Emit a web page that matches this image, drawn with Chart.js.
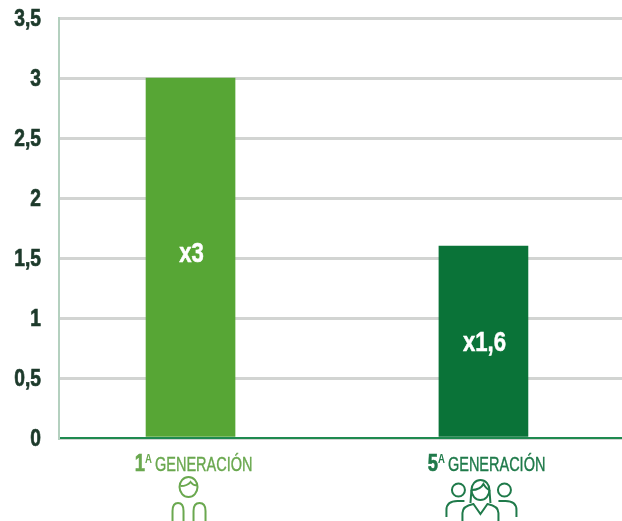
<!DOCTYPE html>
<html>
<head>
<meta charset="utf-8">
<style>
  html, body { margin: 0; padding: 0; background: #fff; }
  canvas { display: block; }
</style>
<script src="https://cdn.jsdelivr.net/npm/chart.js@4"></script>
</head>
<body>
<canvas id="chart" width="622" height="521"></canvas>
<script>
// data
const ordinals = ['1', '5'];
const categories = ['GENERACIÓN', 'GENERACIÓN'];
const values = [3, 1.6];
const barLabels = ['x3', 'x1,6'];
const barColors = ['#57a635', '#0a7338'];
const labelColors = ['#6aa84f', '#1f7a4a'];

const FONT = '"Liberation Sans", sans-serif';

// no condensed font is installed, so squeeze the text horizontally
// weight > 0 adds a thin outline to get closer to the heavy original
function narrowText(ctx, text, x, y, font, squeeze, weight) {
    ctx.save();
    ctx.font = font;
    ctx.translate(x, y);
    ctx.scale(squeeze, 1);
    ctx.fillText(text, 0, 0);
    if (weight) {
        ctx.strokeStyle = ctx.fillStyle;
        ctx.lineWidth = weight;
        ctx.strokeText(text, 0, 0);
    }
    ctx.restore();
}

// icons under the axis labels
function drawOnePerson(ctx, cx) {
    ctx.beginPath();
    ctx.ellipse(cx - 2, 487, 9, 10, 0, 0, Math.PI * 2);
    ctx.stroke();
    ctx.beginPath();
    ctx.moveTo(cx - 10, 486);
    ctx.quadraticCurveTo(cx - 3, 486, cx, 482);
    ctx.quadraticCurveTo(cx + 3, 486, cx + 7, 485);
    ctx.stroke();
    [[cx - 18, cx - 7], [cx + 3, cx + 15]].forEach(([a, b]) => {
        ctx.beginPath();
        ctx.moveTo(a, 521);
        ctx.lineTo(a, 511);
        ctx.quadraticCurveTo(a, 503, (a + b) / 2, 503);
        ctx.quadraticCurveTo(b, 503, b, 511);
        ctx.lineTo(b, 521);
        ctx.stroke();
    });
}

function drawThreePeople(ctx, cx) {
    [[cx - 25, 6.5], [cx + 21, 6.5]].forEach(([x, r]) => {
        ctx.beginPath();
        ctx.arc(x, 490, r, 0, Math.PI * 2);
        ctx.stroke();
    });
    ctx.beginPath();
    ctx.ellipse(cx - 3, 490, 9, 10, 0, 0, Math.PI * 2);
    ctx.stroke();
    ctx.beginPath();
    ctx.moveTo(cx - 12, 490);
    ctx.quadraticCurveTo(cx - 3, 490, cx, 484);
    ctx.quadraticCurveTo(cx + 3, 489, cx + 6, 490);
    ctx.moveTo(cx - 12, 490);
    ctx.lineTo(cx - 13, 503);
    ctx.moveTo(cx + 6, 490);
    ctx.lineTo(cx + 7, 503);
    ctx.stroke();
    // middle body
    ctx.beginPath();
    ctx.moveTo(cx - 21, 521);
    ctx.lineTo(cx - 21, 513);
    ctx.quadraticCurveTo(cx - 21, 506, cx - 10, 504);
    ctx.lineTo(cx - 3, 514);
    ctx.lineTo(cx + 4, 504);
    ctx.quadraticCurveTo(cx + 15, 506, cx + 15, 513);
    ctx.lineTo(cx + 15, 521);
    ctx.stroke();
    // side shoulders
    ctx.beginPath();
    ctx.moveTo(cx - 37, 517);
    ctx.lineTo(cx - 37, 510);
    ctx.quadraticCurveTo(cx - 37, 501, cx - 26, 501);
    ctx.lineTo(cx - 19, 501);
    ctx.moveTo(cx + 33, 517);
    ctx.lineTo(cx + 33, 510);
    ctx.quadraticCurveTo(cx + 33, 501, cx + 22, 501);
    ctx.lineTo(cx + 15, 501);
    ctx.stroke();
}

const annotations = {
    id: 'annotations',
    afterDatasetsDraw(chart) {
        const ctx = chart.ctx;
        const meta = chart.getDatasetMeta(0);
        const yScale = chart.scales.y;
        ctx.save();
        ctx.textBaseline = 'alphabetic';
        ctx.textAlign = 'left';

        // y tick labels, right aligned
        ctx.fillStyle = '#1d3a2b';
        const tickFont = 'bold 24px ' + FONT;
        yScale.ticks.forEach(tick => {
            const text = String(tick.value).replace('.', ',');
            ctx.font = tickFont;
            const w = ctx.measureText(text).width * 0.8;
            narrowText(ctx, text, 41 - w, yScale.getPixelForValue(tick.value) + 8, tickFont, 0.8, 0.7);
        });

        // labels inside the bars
        ctx.fillStyle = '#fff';
        const barFont = 'bold 27px ' + FONT;
        const barLabelY = [1.55, 0.81];
        meta.data.forEach((bar, i) => {
            ctx.font = barFont;
            const w = ctx.measureText(barLabels[i]).width * 0.82;
            narrowText(ctx, barLabels[i], bar.x - w / 2 + 1, yScale.getPixelForValue(barLabelY[i]) + 10, barFont, 0.82, 0.5);
        });

        // category labels: ordinal + raised A + word
        const wordStart = [-35.5, -35.5];
        meta.data.forEach((bar, i) => {
            const y = 471;
            ctx.fillStyle = labelColors[i];
            const wordX = bar.x + wordStart[i];
            const digitFont = 'bold 23px ' + FONT;
            const supFont = 'bold 12px ' + FONT;
            ctx.font = digitFont;
            const w1 = ctx.measureText(ordinals[i]).width * 0.8;
            ctx.font = supFont;
            const w2 = ctx.measureText('A').width * 0.8;
            narrowText(ctx, ordinals[i], wordX - w1 - w2 - 3, y, digitFont, 0.8, 0.6);
            narrowText(ctx, 'A', wordX - w2 - 3, y - 8, supFont, 0.8);
            narrowText(ctx, categories[i], wordX, y, '21px ' + FONT, 0.69, 0.4);
        });

        ctx.lineWidth = 2;
        ctx.strokeStyle = labelColors[0];
        drawOnePerson(ctx, meta.data[0].x);
        ctx.strokeStyle = labelColors[1];
        drawThreePeople(ctx, meta.data[1].x);
        ctx.restore();
    }
};

new Chart(document.getElementById('chart'), {
    type: 'bar',
    data: {
        datasets: [{
            data: values.map((v, i) => ({ x: i + 1, y: v })),
            backgroundColor: barColors,
            barThickness: 89
        }]
    },
    options: {
        responsive: false,
        animation: false,
        devicePixelRatio: 1,
        layout: { padding: { top: 18, right: 0, bottom: 0, left: 0 } },
        plugins: { legend: { display: false }, tooltip: { enabled: false } },
        scales: {
            x: {
                type: 'linear',
                offset: false,
                min: 0.551,
                max: 2.473,
                ticks: { display: false },
                grid: { display: false, drawTicks: false },
                border: { color: '#1f8a50', width: 2 },
                afterFit(scale) { scale.height = 83; }
            },
            y: {
                min: 0,
                max: 3.5,
                ticks: {
                    stepSize: 0.5,
                    display: false
                },
                grid: {
                    color: '#d2d4d2',
                    lineWidth: 3,
                    drawTicks: false
                },
                border: { color: '#b4d0bf', width: 2 },
                afterFit(scale) { scale.width = 59; }
            }
        }
    },
    plugins: [annotations]
});
</script>
</body>
</html>
